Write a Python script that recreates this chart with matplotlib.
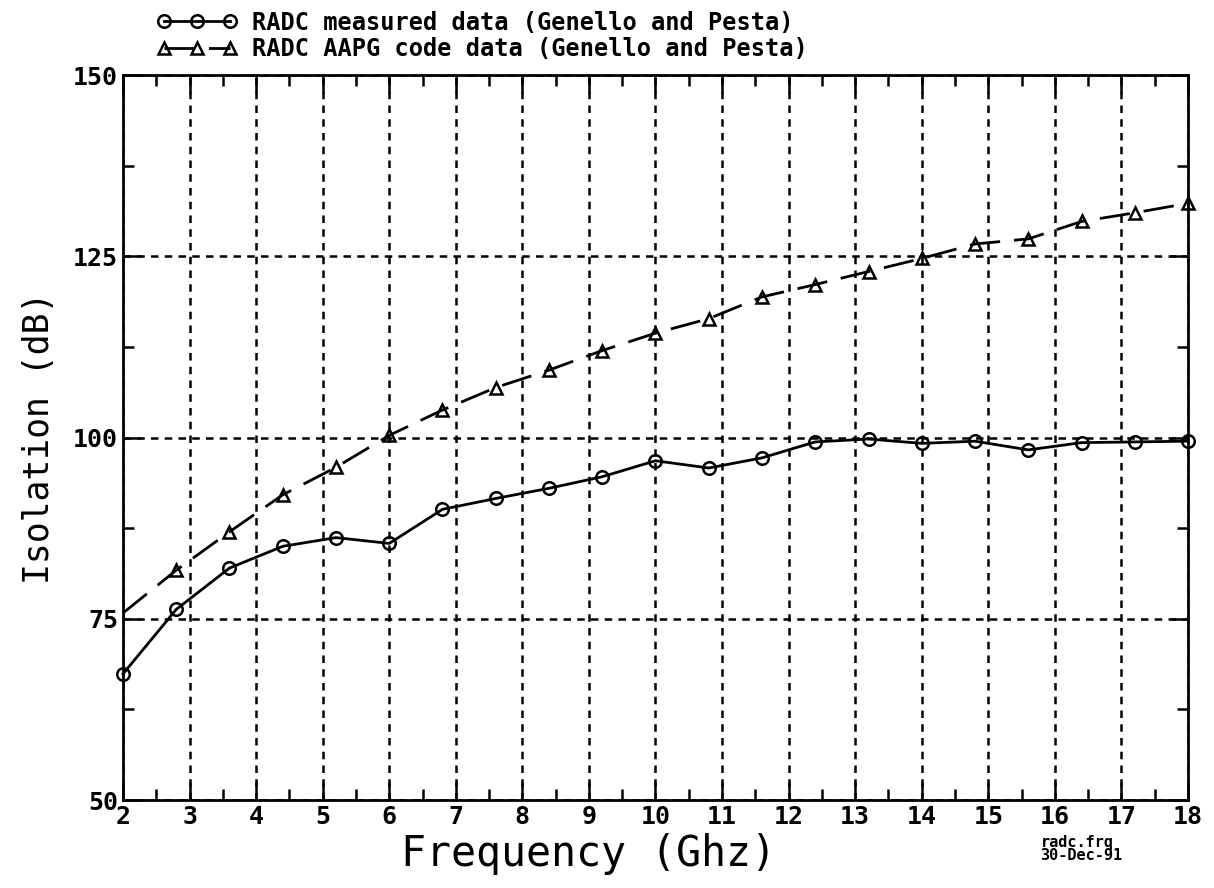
import numpy as np
import matplotlib
matplotlib.use("Agg")
import matplotlib.pyplot as plt
from matplotlib.ticker import MultipleLocator

freq_ghz = [2.0, 2.8, 3.6, 4.4, 5.2, 6.0, 6.8, 7.6, 8.4, 9.2, 10.0,
            10.8, 11.6, 12.4, 13.2, 14.0, 14.8, 15.6, 16.4, 17.2, 18.0]
measured_db = [67.4, 76.3, 82.0, 85.0, 86.2, 85.4, 90.1, 91.6, 93.0, 94.6, 96.8,
               95.8, 97.2, 99.4, 99.8, 99.2, 99.5, 98.3, 99.3, 99.4, 99.5]
aapg_db = [75.8, 81.7, 87.0, 92.1, 95.9, 100.3, 103.8, 106.9, 109.3, 112.0, 114.4,
           116.4, 119.4, 121.1, 122.9, 124.7, 126.7, 127.4, 129.8, 131.0, 132.3]

x_ticks = list(range(2, 19))
y_ticks = [50, 75, 100, 125, 150]

plt.rcParams['font.family'] = 'DejaVu Sans Mono'
plt.rcParams['font.weight'] = 'bold'

fig = plt.figure(figsize=(12.14, 8.88), dpi=100)
ax = fig.add_axes([0.1013, 0.099, 0.8773, 0.8165])

ax.plot(freq_ghz, measured_db, color='black', lw=2, marker='o', ms=9,
        mfc='none', mec='black', mew=1.8, clip_on=False,
        label='RADC measured data (Genello and Pesta)')
ax.plot(freq_ghz, aapg_db, color='black', lw=2, linestyle=(0, (11, 5)),
        marker='^', ms=8, mfc='none', mec='black', mew=1.8,
        markevery=slice(1, None), clip_on=False,
        label='RADC AAPG code data (Genello and Pesta)')

ax.set_xlim(2, 18)
ax.set_ylim(50, 150)
ax.set_xticks(x_ticks)
ax.set_yticks(y_ticks)
ax.xaxis.set_minor_locator(MultipleLocator(0.5))
ax.yaxis.set_minor_locator(MultipleLocator(12.5))
ax.tick_params(which='both', direction='in', top=True, right=True,
               width=1.8, labelsize=18)
ax.tick_params(which='major', length=13)
ax.tick_params(which='minor', length=8)
ax.grid(True, which='major', color='black', linestyle=(0, (3, 2.5)), lw=1.8)
for s in ax.spines.values():
    s.set_linewidth(2)

ax.set_xlabel('Frequency (Ghz)', fontsize=30, labelpad=0)
ax.xaxis.set_label_coords(0.437, -0.045)
ax.set_ylabel('Isolation (dB)', fontsize=25, labelpad=12)

fig.legend(loc='upper left', bbox_to_anchor=(0.112, 1.012), frameon=False,
           numpoints=3, handlelength=3.4, handletextpad=0.6,
           labelspacing=0.1, fontsize=17)

fig.text(0.857, 0.032, 'radc.frq\n30-Dec-91', fontsize=11, linespacing=0.8)

fig.savefig('out.png', dpi=100)
